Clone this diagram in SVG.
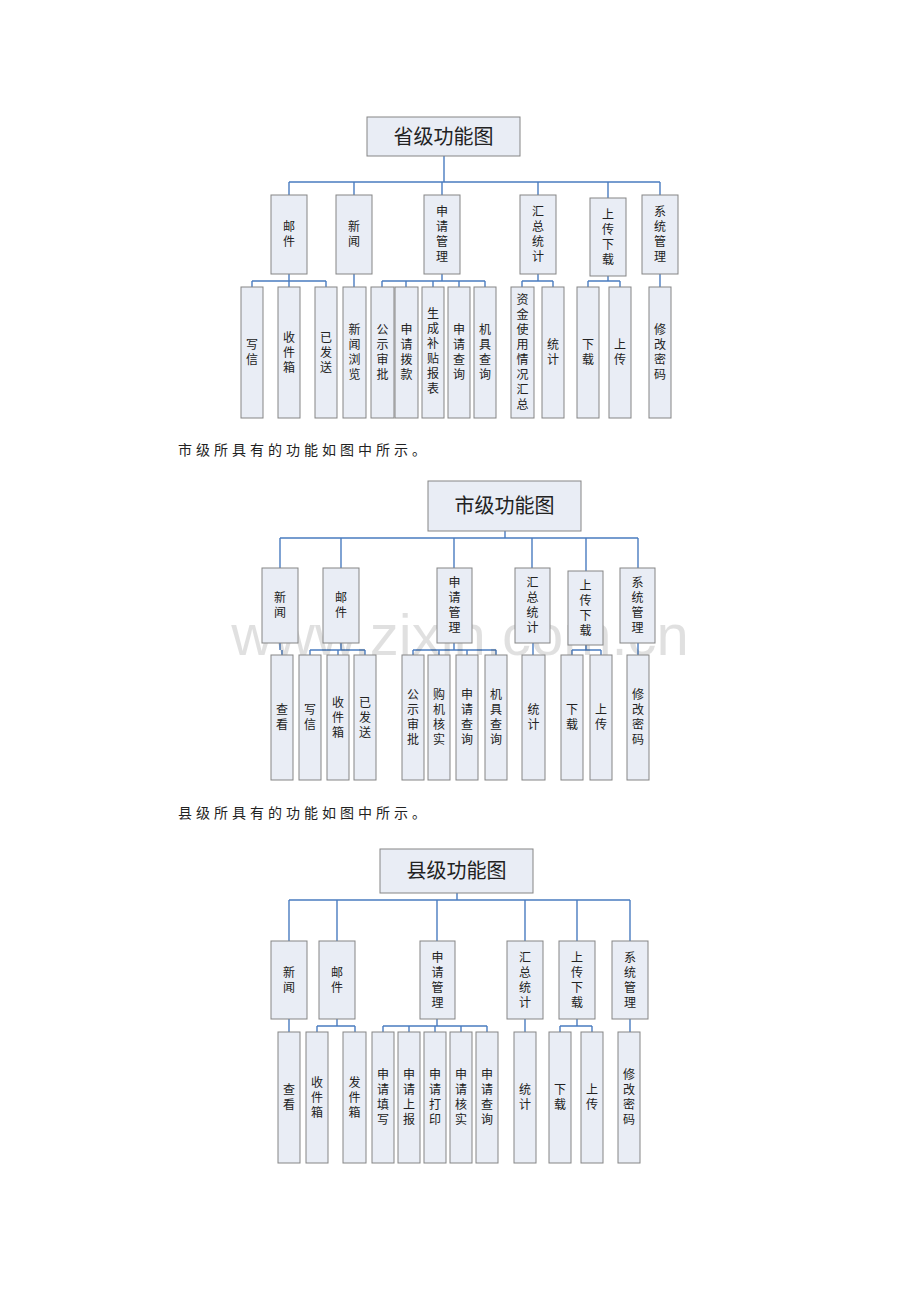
<svg xmlns="http://www.w3.org/2000/svg" width="920" height="1302" viewBox="0 0 920 1302">
<style>
.b{fill:#e9edf5;stroke:#858585;stroke-width:1}
.t{font-family:"Noto Sans CJK SC","Liberation Sans",sans-serif;font-size:12px;fill:#222;text-anchor:middle}
.h{font-family:"Noto Sans CJK SC","Liberation Serif",serif;font-size:20px;fill:#222;text-anchor:middle}
.p{font-family:"Noto Sans CJK SC","Liberation Serif",serif;font-size:14px;fill:#222;letter-spacing:4px}
.c{fill:none;stroke:#4a7cc0;stroke-width:1.4}
.w{font-family:"Liberation Sans",sans-serif;font-size:58px;fill:#000;fill-opacity:0.12}
</style>
<rect width="920" height="1302" fill="#fff"/>
<g id="connectors">
<path class="c" d="M444 156V182M289 182H660M289 182V195M354 182V195M442 182V195M538 182V195M608 182V198M660 182V195M289 274V281M252 281H326M252 281V287M289 281V287M326 281V287M354 274V287M442 274V281M382 281H485M382 281V287M406 281V287M433 281V287M459 281V287M485 281V287M538 274V281M522 281H553M522 281V287M553 281V287M608 276V281M588 281H620M588 281V287M620 281V287M660 274V287"/>
<path class="c" d="M505 531V538M280 538H638M280 538V568M341 538V568M454 538V568M532 538V568M586 538V571M638 538V568M280 643V650M282 650V655M341 643V650M310 650H365M310 650V655M338 650V655M365 650V655M454 643V650M413 650H496M413 650V655M439 650V655M467 650V655M496 650V655M533 643V655M586 645V650M572 650H601M572 650V655M601 650V655M638 643V655"/>
<path class="c" d="M457 893V900M289 900H630M289 900V941M337 900V941M437 900V941M525 900V941M577 900V941M630 900V941M289 1019V1032M337 1019V1026M317 1026H355M317 1026V1032M355 1026V1032M437 1019V1026M383 1026H487M383 1026V1032M409 1026V1032M435 1026V1032M461 1026V1032M487 1026V1032M525 1019V1032M577 1019V1026M560 1026H592M560 1026V1032M592 1026V1032M630 1019V1032"/>
</g>
<text class="w" x="460" y="655" text-anchor="middle">www.zixin.com.cn</text>
<text class="p" x="178" y="455">市级所具有的功能如图中所示。</text>
<text class="p" x="178" y="818">县级所具有的功能如图中所示。</text>
<!-- Diagram 1 -->
<g id="p-title"><rect class="b" x="367" y="117" width="153" height="39"/><text class="h" x="443.5" y="144">省级功能图</text></g>
<g id="p-mail"><rect class="b" x="271" y="195" width="36" height="79"/><text class="t" y="231"><tspan x="289">邮</tspan><tspan x="289" dy="15">件</tspan></text></g>
<g id="p-news"><rect class="b" x="336" y="195" width="36" height="79"/><text class="t" y="231"><tspan x="354">新</tspan><tspan x="354" dy="15">闻</tspan></text></g>
<g id="p-apply"><rect class="b" x="424" y="195" width="36" height="79"/><text class="t" y="216"><tspan x="442">申</tspan><tspan x="442" dy="15">请</tspan><tspan x="442" dy="15">管</tspan><tspan x="442" dy="15">理</tspan></text></g>
<g id="p-sum"><rect class="b" x="520" y="195" width="36" height="79"/><text class="t" y="216"><tspan x="538">汇</tspan><tspan x="538" dy="15">总</tspan><tspan x="538" dy="15">统</tspan><tspan x="538" dy="15">计</tspan></text></g>
<g id="p-ud"><rect class="b" x="590" y="198" width="36" height="78"/><text class="t" y="219"><tspan x="608">上</tspan><tspan x="608" dy="15">传</tspan><tspan x="608" dy="15">下</tspan><tspan x="608" dy="15">载</tspan></text></g>
<g id="p-sys"><rect class="b" x="642" y="195" width="36" height="79"/><text class="t" y="216"><tspan x="660">系</tspan><tspan x="660" dy="15">统</tspan><tspan x="660" dy="15">管</tspan><tspan x="660" dy="15">理</tspan></text></g>
<g id="p-c1"><rect class="b" x="241" y="287" width="22" height="131"/><text class="t" y="349"><tspan x="252">写</tspan><tspan x="252" dy="15">信</tspan></text></g>
<g id="p-c2"><rect class="b" x="278" y="287" width="22" height="131"/><text class="t" y="341.5"><tspan x="289">收</tspan><tspan x="289" dy="15">件</tspan><tspan x="289" dy="15">箱</tspan></text></g>
<g id="p-c3"><rect class="b" x="315" y="287" width="22" height="131"/><text class="t" y="341.5"><tspan x="326">已</tspan><tspan x="326" dy="15">发</tspan><tspan x="326" dy="15">送</tspan></text></g>
<g id="p-c4"><rect class="b" x="343" y="287" width="23" height="131"/><text class="t" y="334"><tspan x="354.5">新</tspan><tspan x="354.5" dy="15">闻</tspan><tspan x="354.5" dy="15">浏</tspan><tspan x="354.5" dy="15">览</tspan></text></g>
<g id="p-c5"><rect class="b" x="371" y="287" width="23" height="131"/><text class="t" y="334"><tspan x="382.5">公</tspan><tspan x="382.5" dy="15">示</tspan><tspan x="382.5" dy="15">审</tspan><tspan x="382.5" dy="15">批</tspan></text></g>
<g id="p-c6"><rect class="b" x="395" y="287" width="23" height="131"/><text class="t" y="334"><tspan x="406.5">申</tspan><tspan x="406.5" dy="15">请</tspan><tspan x="406.5" dy="15">拨</tspan><tspan x="406.5" dy="15">款</tspan></text></g>
<g id="p-c7"><rect class="b" x="422" y="287" width="22" height="131"/><text class="t" y="318"><tspan x="433">生</tspan><tspan x="433" dy="15">成</tspan><tspan x="433" dy="15">补</tspan><tspan x="433" dy="15">贴</tspan><tspan x="433" dy="15">报</tspan><tspan x="433" dy="15">表</tspan></text></g>
<g id="p-c8"><rect class="b" x="448" y="287" width="22" height="131"/><text class="t" y="334"><tspan x="459">申</tspan><tspan x="459" dy="15">请</tspan><tspan x="459" dy="15">查</tspan><tspan x="459" dy="15">询</tspan></text></g>
<g id="p-c9"><rect class="b" x="474" y="287" width="22" height="131"/><text class="t" y="334"><tspan x="485">机</tspan><tspan x="485" dy="15">具</tspan><tspan x="485" dy="15">查</tspan><tspan x="485" dy="15">询</tspan></text></g>
<g id="p-c10"><rect class="b" x="511" y="287" width="23" height="131"/><text class="t" y="304"><tspan x="522.5">资</tspan><tspan x="522.5" dy="15">金</tspan><tspan x="522.5" dy="15">使</tspan><tspan x="522.5" dy="15">用</tspan><tspan x="522.5" dy="15">情</tspan><tspan x="522.5" dy="15">况</tspan><tspan x="522.5" dy="15">汇</tspan><tspan x="522.5" dy="15">总</tspan></text></g>
<g id="p-c11"><rect class="b" x="542" y="287" width="22" height="131"/><text class="t" y="349"><tspan x="553">统</tspan><tspan x="553" dy="15">计</tspan></text></g>
<g id="p-c12"><rect class="b" x="577" y="287" width="22" height="131"/><text class="t" y="349"><tspan x="588">下</tspan><tspan x="588" dy="15">载</tspan></text></g>
<g id="p-c13"><rect class="b" x="609" y="287" width="22" height="131"/><text class="t" y="349"><tspan x="620">上</tspan><tspan x="620" dy="15">传</tspan></text></g>
<g id="p-c14"><rect class="b" x="649" y="287" width="22" height="131"/><text class="t" y="334"><tspan x="660">修</tspan><tspan x="660" dy="15">改</tspan><tspan x="660" dy="15">密</tspan><tspan x="660" dy="15">码</tspan></text></g>
<!-- Diagram 2 -->
<g id="s-title"><rect class="b" x="428" y="481" width="153" height="50"/><text class="h" x="504.5" y="513">市级功能图</text></g>
<g id="s-news"><rect class="b" x="262" y="568" width="36" height="75"/><text class="t" y="602"><tspan x="280">新</tspan><tspan x="280" dy="15">闻</tspan></text></g>
<g id="s-mail"><rect class="b" x="323" y="568" width="36" height="75"/><text class="t" y="602"><tspan x="341">邮</tspan><tspan x="341" dy="15">件</tspan></text></g>
<g id="s-apply"><rect class="b" x="437" y="568" width="35" height="75"/><text class="t" y="587"><tspan x="454.5">申</tspan><tspan x="454.5" dy="15">请</tspan><tspan x="454.5" dy="15">管</tspan><tspan x="454.5" dy="15">理</tspan></text></g>
<g id="s-sum"><rect class="b" x="515" y="568" width="35" height="75"/><text class="t" y="587"><tspan x="532.5">汇</tspan><tspan x="532.5" dy="15">总</tspan><tspan x="532.5" dy="15">统</tspan><tspan x="532.5" dy="15">计</tspan></text></g>
<g id="s-ud"><rect class="b" x="568" y="571" width="35" height="74"/><text class="t" y="589.5"><tspan x="585.5">上</tspan><tspan x="585.5" dy="15">传</tspan><tspan x="585.5" dy="15">下</tspan><tspan x="585.5" dy="15">载</tspan></text></g>
<g id="s-sys"><rect class="b" x="620" y="568" width="35" height="75"/><text class="t" y="587"><tspan x="637.5">系</tspan><tspan x="637.5" dy="15">统</tspan><tspan x="637.5" dy="15">管</tspan><tspan x="637.5" dy="15">理</tspan></text></g>
<g id="s-c1"><rect class="b" x="271" y="655" width="22" height="125"/><text class="t" y="714"><tspan x="282">查</tspan><tspan x="282" dy="15">看</tspan></text></g>
<g id="s-c2"><rect class="b" x="299" y="655" width="22" height="125"/><text class="t" y="714"><tspan x="310">写</tspan><tspan x="310" dy="15">信</tspan></text></g>
<g id="s-c3"><rect class="b" x="327" y="655" width="22" height="125"/><text class="t" y="706.5"><tspan x="338">收</tspan><tspan x="338" dy="15">件</tspan><tspan x="338" dy="15">箱</tspan></text></g>
<g id="s-c4"><rect class="b" x="354" y="655" width="22" height="125"/><text class="t" y="706.5"><tspan x="365">已</tspan><tspan x="365" dy="15">发</tspan><tspan x="365" dy="15">送</tspan></text></g>
<g id="s-c5"><rect class="b" x="402" y="655" width="22" height="125"/><text class="t" y="699"><tspan x="413">公</tspan><tspan x="413" dy="15">示</tspan><tspan x="413" dy="15">审</tspan><tspan x="413" dy="15">批</tspan></text></g>
<g id="s-c6"><rect class="b" x="428" y="655" width="22" height="125"/><text class="t" y="699"><tspan x="439">购</tspan><tspan x="439" dy="15">机</tspan><tspan x="439" dy="15">核</tspan><tspan x="439" dy="15">实</tspan></text></g>
<g id="s-c7"><rect class="b" x="456" y="655" width="22" height="125"/><text class="t" y="699"><tspan x="467">申</tspan><tspan x="467" dy="15">请</tspan><tspan x="467" dy="15">查</tspan><tspan x="467" dy="15">询</tspan></text></g>
<g id="s-c8"><rect class="b" x="485" y="655" width="22" height="125"/><text class="t" y="699"><tspan x="496">机</tspan><tspan x="496" dy="15">具</tspan><tspan x="496" dy="15">查</tspan><tspan x="496" dy="15">询</tspan></text></g>
<g id="s-c9"><rect class="b" x="522" y="655" width="23" height="125"/><text class="t" y="714"><tspan x="533.5">统</tspan><tspan x="533.5" dy="15">计</tspan></text></g>
<g id="s-c10"><rect class="b" x="561" y="655" width="22" height="125"/><text class="t" y="714"><tspan x="572">下</tspan><tspan x="572" dy="15">载</tspan></text></g>
<g id="s-c11"><rect class="b" x="590" y="655" width="22" height="125"/><text class="t" y="714"><tspan x="601">上</tspan><tspan x="601" dy="15">传</tspan></text></g>
<g id="s-c12"><rect class="b" x="627" y="655" width="22" height="125"/><text class="t" y="699"><tspan x="638">修</tspan><tspan x="638" dy="15">改</tspan><tspan x="638" dy="15">密</tspan><tspan x="638" dy="15">码</tspan></text></g>
<!-- Diagram 3 -->
<g id="x-title"><rect class="b" x="380" y="849" width="153" height="44"/><text class="h" x="456.5" y="878">县级功能图</text></g>
<g id="x-news"><rect class="b" x="271" y="941" width="36" height="78"/><text class="t" y="976.5"><tspan x="289">新</tspan><tspan x="289" dy="15">闻</tspan></text></g>
<g id="x-mail"><rect class="b" x="319" y="941" width="36" height="78"/><text class="t" y="976.5"><tspan x="337">邮</tspan><tspan x="337" dy="15">件</tspan></text></g>
<g id="x-apply"><rect class="b" x="420" y="941" width="35" height="78"/><text class="t" y="961.5"><tspan x="437.5">申</tspan><tspan x="437.5" dy="15">请</tspan><tspan x="437.5" dy="15">管</tspan><tspan x="437.5" dy="15">理</tspan></text></g>
<g id="x-sum"><rect class="b" x="507" y="941" width="36" height="78"/><text class="t" y="961.5"><tspan x="525">汇</tspan><tspan x="525" dy="15">总</tspan><tspan x="525" dy="15">统</tspan><tspan x="525" dy="15">计</tspan></text></g>
<g id="x-ud"><rect class="b" x="559" y="941" width="36" height="78"/><text class="t" y="961.5"><tspan x="577">上</tspan><tspan x="577" dy="15">传</tspan><tspan x="577" dy="15">下</tspan><tspan x="577" dy="15">载</tspan></text></g>
<g id="x-sys"><rect class="b" x="612" y="941" width="36" height="78"/><text class="t" y="961.5"><tspan x="630">系</tspan><tspan x="630" dy="15">统</tspan><tspan x="630" dy="15">管</tspan><tspan x="630" dy="15">理</tspan></text></g>
<g id="x-c1"><rect class="b" x="278" y="1032" width="22" height="131"/><text class="t" y="1094"><tspan x="289">查</tspan><tspan x="289" dy="15">看</tspan></text></g>
<g id="x-c2"><rect class="b" x="306" y="1032" width="22" height="131"/><text class="t" y="1086.5"><tspan x="317">收</tspan><tspan x="317" dy="15">件</tspan><tspan x="317" dy="15">箱</tspan></text></g>
<g id="x-c3"><rect class="b" x="343" y="1032" width="23" height="131"/><text class="t" y="1086.5"><tspan x="354.5">发</tspan><tspan x="354.5" dy="15">件</tspan><tspan x="354.5" dy="15">箱</tspan></text></g>
<g id="x-c4"><rect class="b" x="372" y="1032" width="22" height="131"/><text class="t" y="1079"><tspan x="383">申</tspan><tspan x="383" dy="15">请</tspan><tspan x="383" dy="15">填</tspan><tspan x="383" dy="15">写</tspan></text></g>
<g id="x-c5"><rect class="b" x="398" y="1032" width="22" height="131"/><text class="t" y="1079"><tspan x="409">申</tspan><tspan x="409" dy="15">请</tspan><tspan x="409" dy="15">上</tspan><tspan x="409" dy="15">报</tspan></text></g>
<g id="x-c6"><rect class="b" x="424" y="1032" width="22" height="131"/><text class="t" y="1079"><tspan x="435">申</tspan><tspan x="435" dy="15">请</tspan><tspan x="435" dy="15">打</tspan><tspan x="435" dy="15">印</tspan></text></g>
<g id="x-c7"><rect class="b" x="450" y="1032" width="22" height="131"/><text class="t" y="1079"><tspan x="461">申</tspan><tspan x="461" dy="15">请</tspan><tspan x="461" dy="15">核</tspan><tspan x="461" dy="15">实</tspan></text></g>
<g id="x-c8"><rect class="b" x="476" y="1032" width="22" height="131"/><text class="t" y="1079"><tspan x="487">申</tspan><tspan x="487" dy="15">请</tspan><tspan x="487" dy="15">查</tspan><tspan x="487" dy="15">询</tspan></text></g>
<g id="x-c9"><rect class="b" x="514" y="1032" width="22" height="131"/><text class="t" y="1094"><tspan x="525">统</tspan><tspan x="525" dy="15">计</tspan></text></g>
<g id="x-c10"><rect class="b" x="549" y="1032" width="22" height="131"/><text class="t" y="1094"><tspan x="560">下</tspan><tspan x="560" dy="15">载</tspan></text></g>
<g id="x-c11"><rect class="b" x="581" y="1032" width="22" height="131"/><text class="t" y="1094"><tspan x="592">上</tspan><tspan x="592" dy="15">传</tspan></text></g>
<g id="x-c12"><rect class="b" x="618" y="1032" width="22" height="131"/><text class="t" y="1079"><tspan x="629">修</tspan><tspan x="629" dy="15">改</tspan><tspan x="629" dy="15">密</tspan><tspan x="629" dy="15">码</tspan></text></g>
</svg>
